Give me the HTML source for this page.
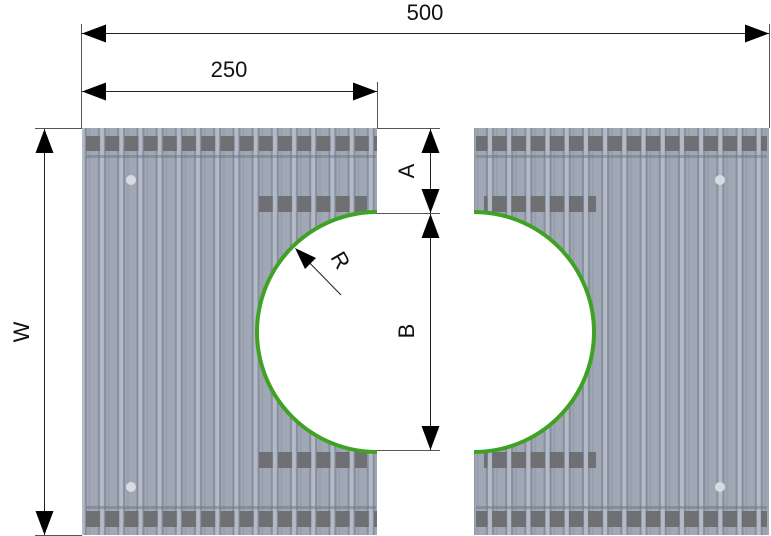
<!DOCTYPE html>
<html><head><style>html,body{margin:0;padding:0;background:#fff;}svg{display:block;}</style></head>
<body>
<svg width="771" height="536" viewBox="0 0 771 536" xmlns="http://www.w3.org/2000/svg" font-family="Liberation Sans, sans-serif">
<defs>
<pattern id="rib" x="93" y="0" width="19.2" height="536" patternUnits="userSpaceOnUse">
  <rect x="0" y="0" width="19.2" height="536" fill="#a0a7b5"/>
  <rect x="5" y="0" width="2" height="536" fill="#878e9c"/>
  <rect x="7" y="0" width="4" height="536" fill="#b4bbc8"/>
  <rect x="11" y="0" width="2" height="536" fill="#878e9c"/>
  <rect x="15" y="0" width="1.5" height="536" fill="#959cab"/>
</pattern>
<pattern id="ribR" x="481" y="0" width="19.2" height="536" patternUnits="userSpaceOnUse">
  <rect x="0" y="0" width="19.2" height="536" fill="#a0a7b5"/>
  <rect x="5" y="0" width="2" height="536" fill="#878e9c"/>
  <rect x="7" y="0" width="4" height="536" fill="#b4bbc8"/>
  <rect x="11" y="0" width="2" height="536" fill="#878e9c"/>
  <rect x="15" y="0" width="1.5" height="536" fill="#959cab"/>
</pattern>
<pattern id="blk" x="86" y="0" width="19.2" height="536" patternUnits="userSpaceOnUse">
  <rect x="0" y="0" width="14" height="536" fill="#6a6a6c"/>
</pattern>
<pattern id="blkR" x="473" y="0" width="19.2" height="536" patternUnits="userSpaceOnUse">
  <rect x="0" y="0" width="14.5" height="536" fill="#6a6a6c"/>
</pattern>
</defs>

<!-- left panel -->
<path d="M82,128 L377,128 L377,212 A120,120 0 0 0 377,452 L377,535 L82,535 Z" fill="url(#rib)"/>
<rect x="86" y="136" width="291" height="15" fill="url(#blk)" opacity="0.9"/>
<rect x="86" y="511" width="291" height="16" fill="url(#blk)" opacity="0.9"/>
<rect x="255" y="196" width="112" height="16" fill="url(#blk)" opacity="0.9"/>
<rect x="255" y="452" width="112" height="16" fill="url(#blk)" opacity="0.9"/>
<rect x="86" y="155" width="290" height="3" fill="#6d7584" opacity="0.5"/>
<rect x="86" y="506" width="290" height="3" fill="#6d7584" opacity="0.5"/>
<circle cx="131" cy="180" r="5" fill="#d8dce2"/>
<circle cx="131" cy="487" r="5" fill="#d8dce2"/>
<path d="M377,212 A120,120 0 0 0 377,452" fill="none" stroke="#3fa225" stroke-width="4"/>

<!-- right panel -->
<path d="M474,128 L769,128 L769,535 L474,535 L474,452 A120,120 0 0 0 474,212 Z" fill="url(#ribR)"/>
<rect x="476" y="136" width="291" height="15" fill="url(#blkR)" opacity="0.9"/>
<rect x="476" y="511" width="291" height="16" fill="url(#blkR)" opacity="0.9"/>
<rect x="484" y="196" width="112" height="16" fill="url(#blkR)" opacity="0.9"/>
<rect x="484" y="452" width="112" height="16" fill="url(#blkR)" opacity="0.9"/>
<rect x="476" y="155" width="291" height="3" fill="#6d7584" opacity="0.5"/>
<rect x="476" y="506" width="291" height="3" fill="#6d7584" opacity="0.5"/>
<circle cx="720" cy="180" r="5" fill="#d8dce2"/>
<circle cx="720" cy="487" r="5" fill="#d8dce2"/>
<path d="M474,212 A120,120 0 0 1 474,452" fill="none" stroke="#3fa225" stroke-width="4"/>

<!-- extension lines -->
<g stroke="#555" stroke-width="1">
<line x1="81.5" y1="24" x2="81.5" y2="128"/>
<line x1="769.5" y1="24" x2="769.5" y2="128"/>
<line x1="377.5" y1="82" x2="377.5" y2="128"/>
<line x1="35" y1="128.5" x2="82" y2="128.5"/>
<line x1="35" y1="535.5" x2="82" y2="535.5"/>
<line x1="377" y1="128.5" x2="440" y2="128.5"/>
<line x1="377" y1="213.5" x2="440" y2="213.5"/>
<line x1="377" y1="450.5" x2="440" y2="450.5"/>
</g>
<!-- dimension lines -->
<g stroke="#222" stroke-width="1">
<line x1="82" y1="33.5" x2="769" y2="33.5"/>
<line x1="82" y1="91.5" x2="377" y2="91.5"/>
<line x1="44.5" y1="129" x2="44.5" y2="535"/>
<line x1="430.5" y1="129" x2="430.5" y2="213"/>
<line x1="430.5" y1="214" x2="430.5" y2="450"/>
<line x1="341" y1="295" x2="298" y2="251"/>
</g>
<g fill="#000">
<polygon points="82,33.5 106,24.5 106,42.5"/>
<polygon points="769,33.5 745,24.5 745,42.5"/>
<polygon points="82,91.5 106,82.5 106,100.5"/>
<polygon points="377,91.5 353,82.5 353,100.5"/>
<polygon points="44.5,129 35.5,153 53.5,153"/>
<polygon points="44.5,535 35.5,511 53.5,511"/>
<polygon points="430.5,129 421.5,153 439.5,153"/>
<polygon points="430.5,213 421.5,189 439.5,189"/>
<polygon points="430.5,214 421.5,238 439.5,238"/>
<polygon points="430.5,450 421.5,426 439.5,426"/>
<polygon points="295,248 316,258 305,269"/>
</g>
<g font-size="22" fill="#111">
<text x="425" y="20" text-anchor="middle">500</text>
<text x="229" y="77" text-anchor="middle">250</text>
<text transform="translate(29,332) rotate(-90)" text-anchor="middle">W</text>
<text transform="translate(414,171) rotate(-90)" text-anchor="middle">A</text>
<text transform="translate(414,331) rotate(-90)" text-anchor="middle">B</text>
<text transform="translate(334,264) rotate(60)" text-anchor="middle">R</text>
</g>
</svg>
</body></html>
